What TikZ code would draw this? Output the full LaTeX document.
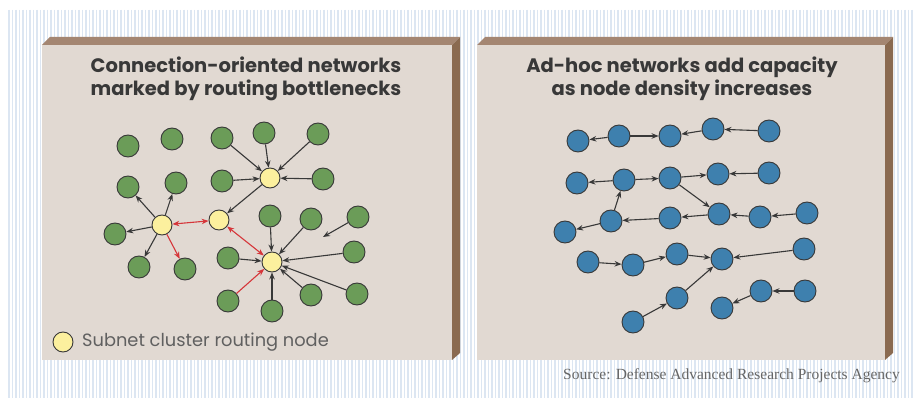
\documentclass[tikz,border=0pt]{standalone}
\usepackage{fontspec}
\setmainfont{Liberation Serif}
\setsansfont{Poppins}
\usetikzlibrary{arrows.meta}

\definecolor{panelface}{HTML}{E1D9D2}
\definecolor{paneltop}{HTML}{A48672}
\definecolor{panelside}{HTML}{8A6A50}
\definecolor{stripeblue}{HTML}{DCE6F2}
\definecolor{nodegreen}{HTML}{6B9C58}
\definecolor{nodeblue}{HTML}{3E80AE}
\definecolor{nodeyellow}{HTML}{FCF09E}
\definecolor{linkred}{HTML}{D6363A}
\definecolor{linkgray}{HTML}{383838}
\definecolor{titlegray}{HTML}{383838}

\tikzset{
  pc/.style={circle, draw=linkgray, line width=0.9pt, minimum size=22pt, inner sep=0pt},
  gn/.style={pc, fill=nodegreen},
  bn/.style={pc, fill=nodeblue},
  yn/.style={pc, fill=nodeyellow, minimum size=20pt},
  link/.style={draw=linkgray, line width=1.1pt, -{Stealth[length=7pt,width=5.5pt]}},
  redlink/.style={link, draw=linkred},
  title/.style={font=\sffamily\bfseries\fontsize{19.5}{23}\selectfont, text=titlegray, align=center, inner sep=0pt, anchor=north},
  stripe/.style={draw=stripeblue, line width=1.6pt}
}

\begin{document}
\begin{tikzpicture}[x=1pt, y=-1pt]
\useasboundingbox (0,0) rectangle (914,398);
\fill[white] (0,0) rectangle (914,398);
\foreach \x in {9,12.5,...,914}
  \draw[stripe] (\x,10) -- (\x,398);

% panels
\fill[paneltop] (42,45) -- (50,37) -- (460,37) -- (452,45) -- cycle;
\fill[panelside] (452,45) -- (460,37) -- (460,353) -- (452,360) -- cycle;
\fill[panelface] (42,45) rectangle (452,360);
\fill[paneltop] (477,45) -- (485,37) -- (893,37) -- (885,45) -- cycle;
\fill[panelside] (885,45) -- (893,37) -- (893,353) -- (885,360) -- cycle;
\fill[panelface] (477,45) rectangle (885,360);

\node[title] (ltitle) at (246,57) {Connection-oriented networks\\marked by routing bottlenecks};
\node[title] (rtitle) at (682,57) {Ad-hoc networks add capacity\\as node density increases};

% routing nodes
\node[yn] (y1) at (162,225) {};
\node[yn] (y2) at (270,178) {};
\node[yn] (y3) at (219,220) {};
\node[yn] (y4) at (272,262) {};

% left cluster
\node[gn] (g1) at (128,146) {};
\node[gn] (g2) at (172,139) {};
\node[gn] (g3) at (128,187) {};
\node[gn] (g4) at (176,183) {};
\node[gn] (g5) at (115,234) {};
\node[gn] (g6) at (139,267) {};
\node[gn] (g7) at (185,269) {};
% top cluster
\node[gn] (g8) at (222,138) {};
\node[gn] (g9) at (264,133) {};
\node[gn] (g10) at (318,134) {};
\node[gn] (g11) at (222,181) {};
\node[gn] (g12) at (323,179) {};
% bottom cluster
\node[gn] (g13) at (270,216) {};
\node[gn] (g14) at (311,219) {};
\node[gn] (g15) at (358,217) {};
\node[gn] (g16) at (228,258) {};
\node[gn] (g17) at (354,252) {};
\node[gn] (g18) at (228,301) {};
\node[gn] (g19) at (272,311) {};
\node[gn] (g20) at (311,295) {};
\node[gn] (g21) at (357,294) {};
\coordinate (gend) at (323,237);

\foreach \a in {g3,g4,g5,g6}
  \draw[link] (y1) -- (\a);
\draw[redlink] (y1) -- (g7);
\foreach \a in {g8,g9,g10,g11,g12}
  \draw[link] (\a) -- (y2);
\draw[link] (y2) -- (y3);
\draw[redlink, {Stealth[length=7pt,width=5.5pt]}-{Stealth[length=7pt,width=5.5pt]}] (y1) -- (y3);
\draw[redlink, {Stealth[length=7pt,width=5.5pt]}-{Stealth[length=7pt,width=5.5pt]}] (y3) -- (y4);
\foreach \a in {g13,g14,g16,g17,g19,g20,g21}
  \draw[link] (\a) -- (y4);
\draw[redlink] (g18) -- (y4);
\draw[link] (g15) -- (gend);

% legend
\node[yn] (legy) at (63,342) {};
\node[anchor=west, font=\sffamily\fontsize{17.8}{18}\selectfont, text=titlegray!80, inner sep=0pt] (legtext) at (82,342) {Subnet cluster routing node};

% ad-hoc nodes
\node[bn] (b11) at (578,141) {};
\node[bn] (b12) at (619,136) {};
\node[bn] (b13) at (670,136) {};
\node[bn] (b14) at (713,129) {};
\node[bn] (b15) at (769,131) {};
\node[bn] (b21) at (577,183) {};
\node[bn] (b22) at (624,180) {};
\node[bn] (b23) at (670,178) {};
\node[bn] (b24) at (718,174) {};
\node[bn] (b25) at (769,173) {};
\node[bn] (b31) at (565,232) {};
\node[bn] (b32) at (611,221) {};
\node[bn] (b33) at (670,218) {};
\node[bn] (b34) at (719,214) {};
\node[bn] (b35) at (760,217) {};
\node[bn] (b36) at (807,213) {};
\node[bn] (b41) at (588,262) {};
\node[bn] (b42) at (633,265) {};
\node[bn] (b43) at (677,254) {};
\node[bn] (b44) at (722,259) {};
\node[bn] (b45) at (804,249) {};
\node[bn] (b51) at (633,322) {};
\node[bn] (b52) at (677,298) {};
\node[bn] (b53) at (722,308) {};
\node[bn] (b54) at (761,291) {};
\node[bn] (b55) at (805,291) {};

\foreach \a/\b in {b12/b11,b12/b13,b14/b13,b15/b14,
                   b22/b21,b22/b23,b23/b24,b25/b24,b23/b34,
                   b32/b31,b32/b22,b33/b32,b34/b33,b35/b34,b36/b35,
                   b41/b42,b42/b43,b43/b44,b45/b44,
                   b51/b52,b52/b44,b55/b54,b54/b53}
  \draw[link] (\a) -- (\b);

\node[anchor=base east, font=\rmfamily\fontsize{15.5}{15.5}\selectfont, text=black!60, inner sep=0pt] (source) at (900,380) {Source: Defense Advanced Research Projects Agency};
\end{tikzpicture}
\end{document}
